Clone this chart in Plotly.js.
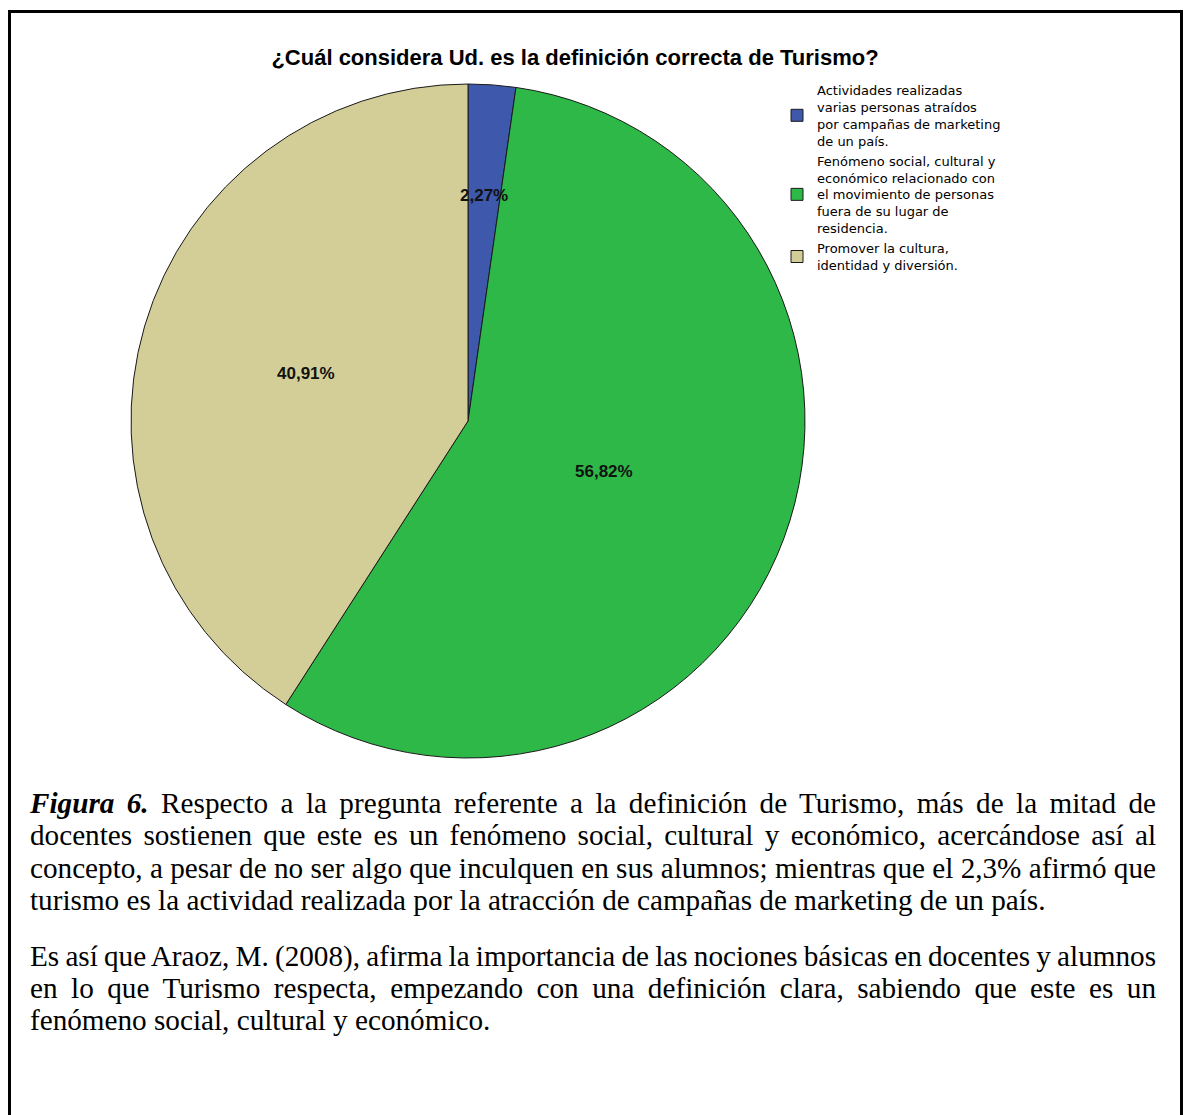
<!DOCTYPE html>
<html>
<head>
<meta charset="utf-8">
<script src="https://cdn.plot.ly/plotly-3.0.1.min.js"></script>
<style>
  html, body { margin: 0; padding: 0; background: #ffffff; }
  #wrap { position: relative; width: 1186px; height: 1115px; overflow: hidden; background: #fff; }
  #chart { position: absolute; left: 0; top: 0; width: 1186px; height: 1115px; }
  #frame { position: absolute; left: 8px; top: 10px; width: 1175px; height: 1200px;
           box-sizing: border-box; border: 3px solid #000; pointer-events: none; z-index: 5; }
  #caption { position: absolute; left: 30px; top: 787px; width: 1126px; z-index: 4;
             font-family: "Liberation Serif", "Times New Roman", serif; font-size: 29.2px;
             line-height: 32.4px; color: #000; }
  #caption .p { margin: 0 0 23px 0; }
  #caption .ln { display: block; white-space: nowrap; text-align: justify; text-align-last: justify; }
  #caption .ln.last { text-align: left; text-align-last: left; }
  #caption .ln.tight { word-spacing: -3px; }
</style>
</head>
<body>
<div id="wrap">
  <div id="chart"></div>
  <div id="frame"></div>
  <div id="caption">
    <div class="p">
      <span class="ln"><b><i>Figura 6.</i></b> Respecto a la pregunta referente a la definición de Turismo, más de la mitad de</span>
      <span class="ln">docentes sostienen que este es un fenómeno social, cultural y económico, acercándose así al</span>
      <span class="ln tight">concepto, a pesar de no ser algo que inculquen en sus alumnos; mientras que el 2,3% afirmó que</span>
      <span class="ln last">turismo es la actividad realizada por la atracción de campañas de marketing de un país.</span>
    </div>
    <div class="p">
      <span class="ln tight">Es así que Araoz, M. (2008), afirma la importancia de las nociones básicas en docentes y alumnos</span>
      <span class="ln">en lo que Turismo respecta, empezando con una definición clara, sabiendo que este es un</span>
      <span class="ln last">fenómeno social, cultural y económico.</span>
    </div>
  </div>
</div>
<script>
// ---- Data ----
const chartTitle = "¿Cuál considera Ud. es la definición correcta de Turismo?";
const categories = [
  "Actividades realizadas<br>varias personas atraídos<br>por campañas de marketing<br>de un país.",
  "Fenómeno social, cultural y<br>económico relacionado con<br>el movimiento de personas<br>fuera de su lugar de<br>residencia.",
  "Promover la cultura,<br>identidad y diversión."
];
const counts = [1, 25, 18];
const sliceColors = ["#3E58AC", "#2EB848", "#D3CE97"];
const labelRadius = [0.67, 0.43, 0.5];

// ---- Layout geometry ----
const W = 1186, H = 1115;
const cx = 468, cy = 421, R = 337;

const total = counts.reduce((a, b) => a + b, 0);
const pctText = counts.map(c => (c / total * 100).toFixed(2).replace('.', ',') + '%');

// label annotations placed at slice mid-angles (clockwise from 12 o'clock)
const annotations = [];
let cum = 0;
counts.forEach((c, i) => {
  const mid = (cum + c / 2) / total * 2 * Math.PI;
  cum += c;
  const px = cx + labelRadius[i] * R * Math.sin(mid);
  const py = cy - labelRadius[i] * R * Math.cos(mid);
  annotations.push({
    x: px / W, y: 1 - py / H, xref: 'paper', yref: 'paper',
    text: pctText[i], showarrow: false, xanchor: 'center', yanchor: 'middle',
    font: { family: 'Arial, "Liberation Sans", sans-serif', size: 17, color: '#111', weight: 'bold' }
  });
});

const trace = {
  type: 'pie',
  labels: categories,
  values: counts,
  sort: false,
  direction: 'clockwise',
  rotation: 0,
  textinfo: 'none',
  hoverinfo: 'none',
  marker: { colors: sliceColors, line: { color: '#1a1a1a', width: 1 } },
  domain: { x: [(cx - R) / W, (cx + R) / W], y: [1 - (cy + R) / H, 1 - (cy - R) / H] }
};

const layout = {
  width: W, height: H,
  margin: { l: 0, r: 0, t: 0, b: 0 },
  paper_bgcolor: 'rgba(0,0,0,0)',
  plot_bgcolor: 'rgba(0,0,0,0)',
  title: {
    text: chartTitle,
    x: 575 / W, xanchor: 'center', xref: 'paper',
    y: 1 - 57 / H, yanchor: 'middle', yref: 'paper',
    font: { family: 'Arial, "Liberation Sans", sans-serif', size: 22, color: '#000', weight: 'bold' }
  },
  showlegend: true,
  legend: {
    x: 777 / W, xanchor: 'left', y: 1 - 75 / H, yanchor: 'top',
    bgcolor: 'rgba(0,0,0,0)', borderwidth: 0,
    font: { family: '"DejaVu Sans", Arial, sans-serif', size: 13, color: '#000' },
    tracegroupgap: 0, valign: 'middle'
  },
  annotations: annotations
};

Plotly.newPlot('chart', [trace], layout, { displayModeBar: false, staticPlot: true });
</script>
</body>
</html>
